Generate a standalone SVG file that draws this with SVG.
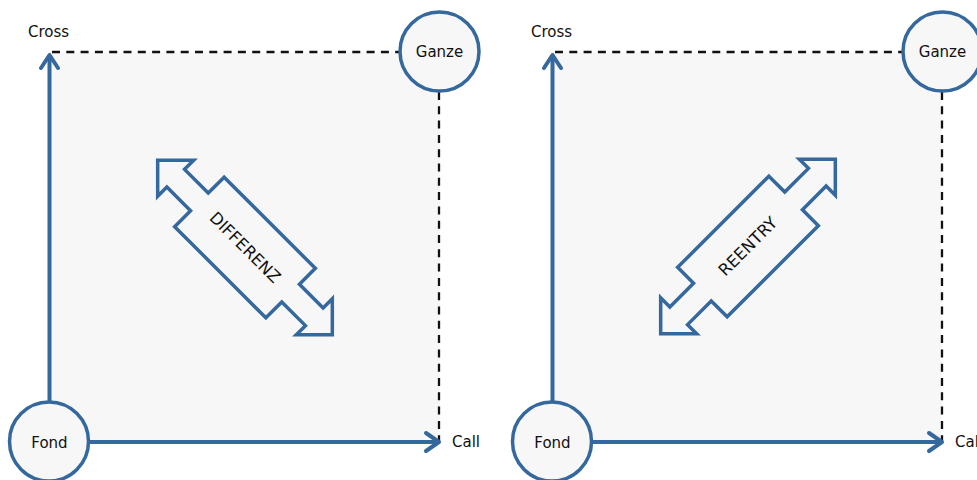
<svg xmlns="http://www.w3.org/2000/svg" width="977" height="480" viewBox="0 0 977 480">
  <defs>
    <style>
      .field { fill: #f7f7f7; stroke: none; }
      .guide { fill: none; stroke: #111; stroke-width: 2.3; stroke-dasharray: 8 6.3; }
      .axis { fill: none; stroke: #35689c; stroke-width: 4; }
      .head { fill: none; stroke: #35689c; stroke-width: 4; stroke-linecap: round; stroke-linejoin: round; }
      .node { fill: #f7f7f7; stroke: #35689c; stroke-width: 3.5; }
      .dbl { fill: #f7f7f7; stroke: #35689c; stroke-width: 3.5; stroke-linejoin: miter; }
      .lbl { font-family: "DejaVu Sans", Verdana, sans-serif; font-size: 15px; fill: #111; }
      .mid { text-anchor: middle; }
      .inner { font-family: "DejaVu Sans", Verdana, sans-serif; font-size: 16.5px; fill: #111; text-anchor: middle; dominant-baseline: central; }
    </style>
    <path id="dblArrow" d="M -123.5,0 L -98,-25.5 L -98,-12.5 L -64.5,-12.5 L -64.5,-35 L 64.5,-35 L 64.5,-12.5 L 98,-12.5 L 98,-25.5 L 123.5,0 L 98,25.5 L 98,12.5 L 64.5,12.5 L 64.5,35 L -64.5,35 L -64.5,12.5 L -98,12.5 L -98,25.5 Z"/>
  </defs>

  <!-- panel backgrounds -->
  <rect class="field" x="49" y="52" width="391" height="390"/>
  <rect class="field" x="552" y="52" width="390" height="390"/>

  <g id="connectors">
    <!-- left panel -->
    <path class="guide" d="M 52,52 H 400"/>
    <path class="guide" d="M 439,92 V 442"/>
    <path class="axis" d="M 49.5,402 V 55"/>
    <path class="head" d="M 41,68 L 49.5,55 L 58,68"/>
    <path class="axis" d="M 89,442 H 438"/>
    <path class="head" d="M 426,433 L 439,442 L 426,451"/>
    <!-- right panel -->
    <path class="guide" d="M 555,52 H 903"/>
    <path class="guide" d="M 942,92 V 442"/>
    <path class="axis" d="M 552.5,402 V 55"/>
    <path class="head" d="M 544,68 L 552.5,55 L 561,68"/>
    <path class="axis" d="M 592,442 H 941"/>
    <path class="head" d="M 929,433 L 942,442 L 929,451"/>
  </g>

  <!-- left panel nodes -->
  <g id="cross-left"><text class="lbl" x="28" y="37">Cross</text></g>
  <g id="call-left"><text class="lbl" x="452" y="447">Call</text></g>
  <g id="ganze-left">
    <circle class="node" cx="439.5" cy="51.5" r="39.5"/>
    <text class="lbl mid" x="439.5" y="57">Ganze</text>
  </g>
  <g id="fond-left">
    <circle class="node" cx="49" cy="441.5" r="39.5"/>
    <text class="lbl mid" x="49.5" y="447.5">Fond</text>
  </g>
  <g id="differenz" transform="translate(245,247.5) rotate(45)">
    <use href="#dblArrow" class="dbl"/>
    <text class="inner" x="0" y="0">DIFFERENZ</text>
  </g>

  <!-- right panel nodes -->
  <g id="cross-right"><text class="lbl" x="531" y="37">Cross</text></g>
  <g id="call-right"><text class="lbl" x="955" y="447">Call</text></g>
  <g id="ganze-right">
    <circle class="node" cx="942.5" cy="51.5" r="39.5"/>
    <text class="lbl mid" x="942.5" y="57">Ganze</text>
  </g>
  <g id="fond-right">
    <circle class="node" cx="552" cy="441.5" r="39.5"/>
    <text class="lbl mid" x="552.5" y="447.5">Fond</text>
  </g>
  <g id="reentry" transform="translate(748,246.5) rotate(-45)">
    <use href="#dblArrow" class="dbl"/>
    <text class="inner" x="0" y="0">REENTRY</text>
  </g>
</svg>
